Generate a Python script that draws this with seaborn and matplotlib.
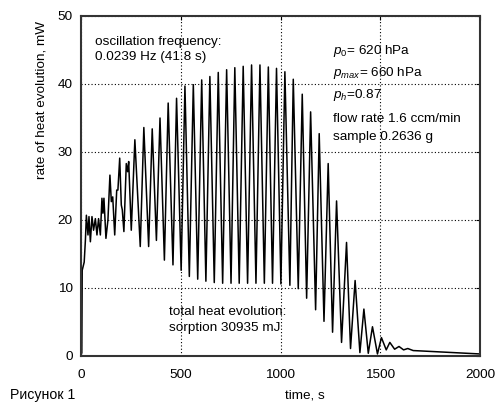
import matplotlib
matplotlib.use("Agg")
import matplotlib.pyplot as plt
import seaborn as sns
import pandas as pd

# ---- data ----
time_s = [0, 4, 6, 11, 16, 22, 27, 35, 40, 47, 55, 63, 72, 80, 88, 97, 105, 110, 115,
          125, 135, 145, 152, 159, 169, 179, 185, 194, 202, 207, 215, 227, 234, 239,
          252, 270, 297, 315, 339, 357, 378, 396, 418, 437, 461, 479, 502, 521, 543,
          563, 585, 605, 626, 646, 668, 688, 710, 730, 752, 771, 793, 813, 835, 855,
          877, 897, 919, 939, 960, 980, 1002, 1022, 1047, 1064, 1089, 1109, 1131,
          1151, 1176, 1194, 1218, 1239, 1261, 1281, 1306, 1331, 1351, 1374, 1398,
          1418, 1440, 1461, 1486, 1506, 1530, 1548, 1572, 1594, 1617, 1638, 1665,
          1700, 1800, 1900, 2000]
heat_mw = [0.0, 0.5, 12.6, 13.2, 13.8, 17.0, 20.7, 17.8, 20.5, 16.8, 20.5, 18.5, 20.2,
           17.8, 20.2, 17.8, 23.2, 21.0, 23.2, 17.3, 20.0, 26.6, 22.7, 23.4, 17.8, 24.4,
           24.4, 29.1, 22.2, 21.5, 18.3, 28.3, 27.1, 28.6, 18.5, 31.8, 16.1, 33.6, 16.1,
           33.4, 17.0, 35.0, 14.1, 37.2, 13.4, 37.9, 12.6, 39.7, 11.7, 39.9, 11.3, 40.6,
           11.0, 41.1, 10.8, 41.7, 10.7, 42.1, 10.7, 42.4, 10.7, 42.6, 10.7, 42.8, 10.7,
           42.8, 10.7, 42.5, 10.7, 42.3, 10.6, 41.8, 10.4, 40.7, 9.9, 38.5, 8.5, 35.9,
           6.8, 32.7, 5.1, 28.3, 3.5, 22.8, 2.0, 16.7, 1.1, 11.1, 0.5, 6.9, 0.4, 4.3,
           0.3, 2.7, 0.9, 2.0, 1.0, 1.4, 0.9, 1.1, 0.8, 0.75, 0.6, 0.45, 0.3]

x_ticks = [0, 500, 1000, 1500, 2000]
y_ticks = [0, 10, 20, 30, 40, 50]

df = pd.DataFrame({"time": time_s, "heat": heat_mw})

sns.set_style("white")
plt.rcParams["font.family"] = ["Liberation Sans", "DejaVu Sans"]
plt.rcParams["mathtext.fontset"] = "custom"
plt.rcParams["mathtext.rm"] = "Liberation Sans"
plt.rcParams["mathtext.it"] = "Liberation Sans:italic"
plt.rcParams["text.color"] = "black"
plt.rcParams["axes.labelcolor"] = "black"
plt.rcParams["xtick.color"] = "black"
plt.rcParams["ytick.color"] = "black"

W, H = 495, 403
fig = plt.figure(figsize=(W / 100, H / 100), dpi=100)
ax = fig.add_axes([81 / W, 47 / H, 399 / W, 340 / H])

sns.lineplot(data=df, x="time", y="heat", ax=ax, color="black",
             linewidth=1.1, estimator=None, sort=False)

ax.set_xlim(0, 2000)
ax.set_ylim(0, 50)
ax.set_xticks(x_ticks)
ax.set_yticks(y_ticks)
ax.set_xlabel("")
ax.set_ylabel("")
fs = 9.7
ax.tick_params(axis="x", direction="in", length=3, width=0.8, pad=9, labelsize=fs,
               top=True, colors="black")
ax.tick_params(axis="y", direction="in", length=3, width=0.8, pad=6, labelsize=fs,
               right=True, colors="black")
ax.grid(True, color="black", linestyle=(0, (1, 2)), linewidth=0.8)
for s in ax.spines.values():
    s.set_color("#333333")
    s.set_linewidth(1.5)


def px(x, y):
    return x / W, 1 - y / H


fig.text(*px(95, 45), "oscillation frequency:", fontsize=fs, va="baseline")
fig.text(*px(95, 60), "0.0239 Hz (41.8 s)", fontsize=fs, va="baseline")

fig.text(*px(333, 54), r"$\mathit{p}_{\mathit{0}}$= 620 hPa", fontsize=fs, va="baseline")
fig.text(*px(333, 76), r"$\mathit{p}_{\mathit{max}}$= 660 hPa", fontsize=fs, va="baseline")
fig.text(*px(333, 98), r"$\mathit{p}_{\mathit{h}}$=0.87", fontsize=fs, va="baseline")
fig.text(*px(333, 122), "flow rate 1.6 ccm/min", fontsize=fs, va="baseline")
fig.text(*px(333, 140), "sample 0.2636 g", fontsize=fs, va="baseline")

fig.text(*px(169, 315), "total heat evolution:", fontsize=fs, va="baseline")
fig.text(*px(169, 331), "sorption 30935 mJ", fontsize=fs, va="baseline")

fig.text(*px(42, 100), "rate of heat evolution, mW", fontsize=fs, rotation=90,
         ha="center", va="center")
fig.text(*px(305, 398), "time, s", fontsize=fs, ha="center", va="baseline")
fig.text(*px(10, 388), "Рисунок 1", fontsize=fs + 0.5, ha="left", va="top")

fig.savefig("out.png", dpi=100)
